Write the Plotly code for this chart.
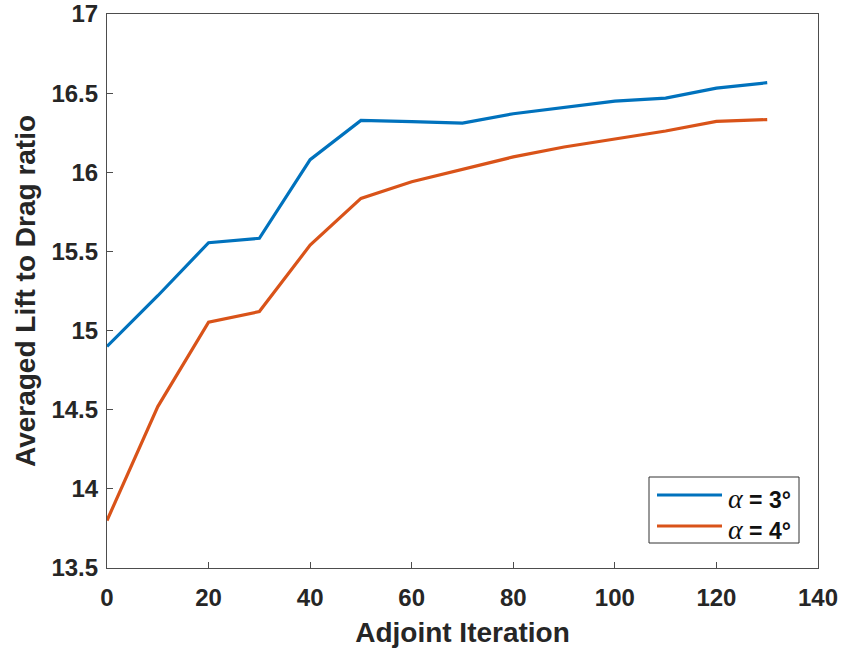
import plotly.graph_objects as go

# Adjoint iterations and averaged lift-to-drag ratio for two angles of attack
iterations = [0, 10, 20, 30, 40, 50, 60, 70, 80, 90, 100, 110, 120, 130]
ld_alpha3 = [14.90, 15.22, 15.555, 15.583, 16.08, 16.328, 16.32, 16.311, 16.37, 16.41, 16.45, 16.469, 16.532, 16.566]
ld_alpha4 = [13.80, 14.52, 15.053, 15.12, 15.54, 15.835, 15.94, 16.02, 16.097, 16.16, 16.21, 16.261, 16.322, 16.333]
series_names = ["α = 3°", "α = 4°"]
series_colors = ["#0072BD", "#D95319"]

x_ticks = [0, 20, 40, 60, 80, 100, 120, 140]
y_ticks = [13.5, 14, 14.5, 15, 15.5, 16, 16.5, 17]

W, H = 843, 656
L, R, T, B = 107, 25, 14, 88
pw, ph = W - L - R, H - T - B

def px(x):
    return (x - L) / pw

def py(y):
    return (H - B - y) / ph

fig = go.Figure()
for ys, name, col in zip([ld_alpha3, ld_alpha4], series_names, series_colors):
    fig.add_trace(go.Scatter(x=iterations, y=ys, mode="lines", name=name,
                             line=dict(color=col, width=3.2), showlegend=False))

sans = "Liberation Sans, Arial, sans-serif"
tick_font = dict(family=sans, size=24, color="#262626")
title_font = dict(family=sans, size=28, color="#262626")

axis_common = dict(showgrid=False, zeroline=False, showline=True, linecolor="#4d4d4d",
                   linewidth=1.2, mirror=True, ticks="inside", ticklen=6, tickwidth=1,
                   tickcolor="#4d4d4d", tickfont=tick_font, automargin=False)

fig.update_layout(
    width=W, height=H,
    margin=dict(l=L, r=R, t=T, b=B),
    paper_bgcolor="white", plot_bgcolor="white",
    font=tick_font,
    xaxis=dict(range=[0, 140], tickvals=x_ticks, ticktext=[f"<b>{v}</b>" for v in x_ticks],
               ticklabelstandoff=8,
               title=dict(text="<b>Adjoint Iteration</b>", font=title_font, standoff=12),
               **axis_common),
    yaxis=dict(range=[13.5, 17], tickvals=y_ticks,
               ticktext=[f"<b>{v:g}</b>" for v in y_ticks],
               ticklabelstandoff=3,
               title=dict(text="<b>Averaged Lift to Drag ratio</b>", font=title_font, standoff=7),
               **axis_common),
)

# Legend box drawn in paper coordinates
fig.add_shape(type="rect", xref="paper", yref="paper",
              x0=px(649), x1=px(799), y0=py(543), y1=py(477),
              line=dict(color="#333333", width=1), fillcolor="white")
for i, (name, col) in enumerate(zip(series_names, series_colors)):
    yy = 495 + i * 31
    fig.add_shape(type="line", xref="paper", yref="paper",
                  x0=px(657), x1=px(722), y0=py(yy), y1=py(yy),
                  line=dict(color=col, width=3.2))
    label = name.replace("α", "<span style='font-family:Liberation Serif, Times New Roman, serif;font-weight:normal;font-size:28px'><i>α</i></span>")
    fig.add_annotation(xref="paper", yref="paper", x=px(726), y=py(yy + 3),
                       xanchor="left", yanchor="middle", showarrow=False,
                       text="<b>" + label + "</b>",
                       font=dict(family=sans, size=23, color="#111111"))

fig.write_html("out.html")
